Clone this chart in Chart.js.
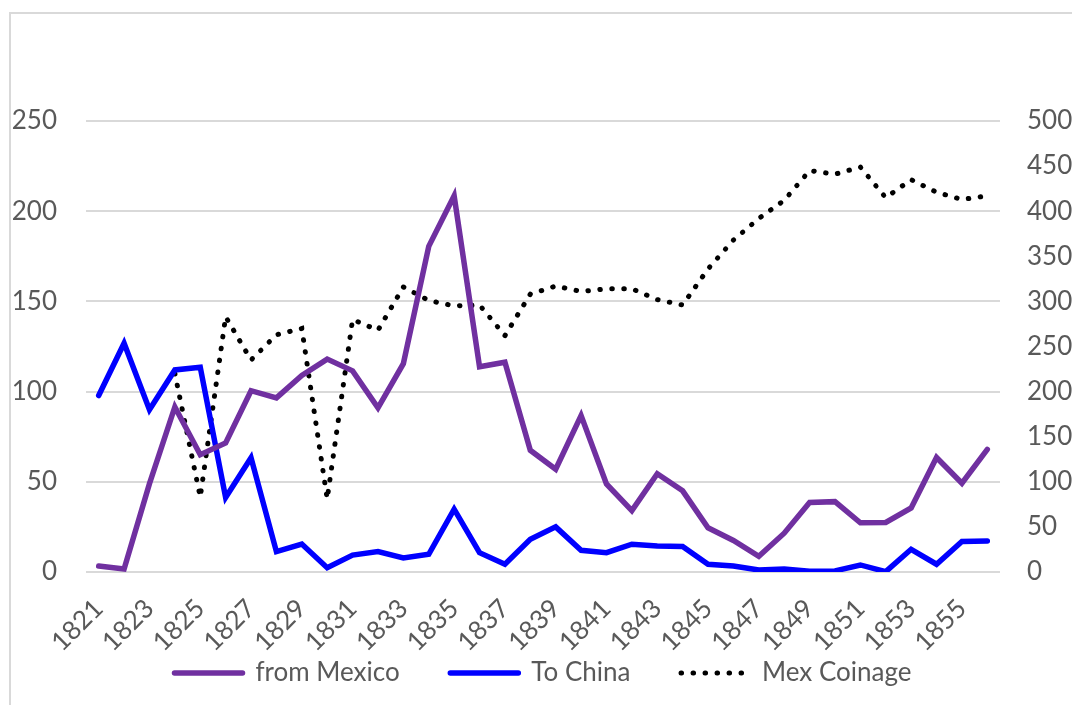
<!DOCTYPE html>
<html>
<head>
<meta charset="utf-8">
<script src="https://cdn.jsdelivr.net/npm/chart.js@4"></script>
<style>
  html, body { margin: 0; padding: 0; background: #fff; }
  #wrap { position: relative; width: 1072px; height: 705px; overflow: hidden; }
  #frame { position: absolute; left: 9px; top: 12px; right: -10px; bottom: -10px;
           border-left: 2px solid #d9d9d9; border-top: 2px solid #d9d9d9; }
  canvas { position: absolute; left: 0; top: 0; }
</style>
</head>
<body>
<div id="wrap">
  <div id="frame"></div>
  <canvas id="trendChart" width="1072" height="705"></canvas>
</div>
<script>
const years = [
  "1821", "1822", "1823", "1824", "1825", "1826", "1827", "1828", "1829", "1830",
  "1831", "1832", "1833", "1834", "1835", "1836", "1837", "1838", "1839", "1840",
  "1841", "1842", "1843", "1844", "1845", "1846", "1847", "1848", "1849", "1850",
  "1851", "1852", "1853", "1854", "1855", "1856"
];
const fromMexico = [
  3.3, 1.7, 49, 91.5, 65, 71.5, 100.5, 96.5, 109, 118,
  111.5, 91, 115.5, 180.5, 208.5, 113.8, 116.3, 67.5, 57, 86.7,
  48.8, 34, 54.5, 45, 24.5, 17.5, 8.7, 21.5, 38.5, 39,
  27.3, 27.5, 35.5, 63.5, 49.2, 68
];
const toChina = [
  97.8, 126.8, 90, 112, 113.5, 41.3, 63.3, 11.3, 15.5, 2.4,
  9.4, 11.3, 7.8, 9.8, 34.8, 10.7, 4.3, 18.1, 25, 12,
  10.7, 15.4, 14.4, 14.1, 4.3, 3.3, 1.1, 1.7, 0.4, 0.6,
  3.9, 0.2, 12.6, 4.3, 16.9, 17.2
];
const mexCoinage = [
  null, null, null, 220, 83, 283, 235, 263, 270, 81,
  280, 268, 316, 301, 295, 296, 262, 308, 317, 311,
  314, 314, 302, 296, 336, 368, 392, 412, 445, 441,
  449, 415, 435, 421, 413, 417
];

const textColor = "#595959";
const font = { family: "Lato, 'Open Sans', sans-serif", size: 26 };
// a few trailing spaces widen the gap between legend entries
const legendGap = "\u00a0\u00a0\u00a0\u00a0\u00a0\u00a0\u00a0";

const ctx = document.getElementById("trendChart").getContext("2d");
new Chart(ctx, {
  type: "line",
  data: {
    labels: years,
    datasets: [
      {
        label: "from Mexico",
        data: fromMexico,
        borderColor: "#7030a0",
        backgroundColor: "#7030a0",
        borderWidth: 5.5,
        borderCapStyle: "round",
        pointRadius: 0,
        yAxisID: "y",
      },
      {
        label: "To China",
        data: toChina,
        borderColor: "#0000ff",
        backgroundColor: "#0000ff",
        borderWidth: 5.5,
        borderCapStyle: "round",
        pointRadius: 0,
        yAxisID: "y",
      },
      {
        label: "Mex Coinage",
        data: mexCoinage,
        borderColor: "#000000",
        backgroundColor: "#000000",
        borderWidth: 5,
        borderDash: [0.5, 11.5],
        borderCapStyle: "round",
        pointRadius: 0,
        yAxisID: "y1",
      },
    ],
  },
  options: {
    responsive: false,
    animation: false,
    layout: { padding: { top: 121, bottom: 9, left: 0, right: 0 } },
    plugins: {
      tooltip: { enabled: false },
      legend: {
        position: "bottom",
        fullSize: false,
        labels: {
          usePointStyle: true,
          pointStyle: "line",
          pointStyleWidth: 68,
          padding: 4,
          color: textColor,
          font: font,
          generateLabels: (chart) => {
            const items = Chart.defaults.plugins.legend.labels.generateLabels(chart);
            items.forEach((item, i) => {
              const ds = chart.data.datasets[i];
              item.lineDash = ds.borderDash || [];
              item.lineCap = ds.borderCapStyle;
              item.lineWidth = ds.borderWidth;
              item.strokeStyle = ds.borderColor;
              if (i < items.length - 1) item.text = ds.label + legendGap;
            });
            return items;
          },
        },
      },
    },
    scales: {
      x: {
        offset: true,
        grid: { display: false, drawTicks: false },
        border: { display: false },
        ticks: {
          color: textColor,
          font: font,
          autoSkip: false,
          minRotation: 45,
          maxRotation: 45,
          padding: 21,
          callback: function (value, index) {
            return index % 2 === 0 ? this.getLabelForValue(value) : "";
          },
        },
        afterFit: (scale) => { scale.height = 84; },
      },
      y: {
        position: "left",
        min: 0,
        max: 250,
        ticks: { stepSize: 50, color: textColor, font: font, padding: 29 },
        grid: { color: "#d9d9d9", lineWidth: 2, drawTicks: false },
        border: { display: false },
        afterFit: (scale) => { scale.width = 86; },
      },
      y1: {
        position: "right",
        min: 0,
        max: 500,
        ticks: { stepSize: 50, color: textColor, font: font, padding: 27 },
        grid: { drawOnChartArea: false, drawTicks: false },
        border: { display: false },
        afterFit: (scale) => { scale.width = 72; },
      },
    },
  },
});
</script>
</body>
</html>
